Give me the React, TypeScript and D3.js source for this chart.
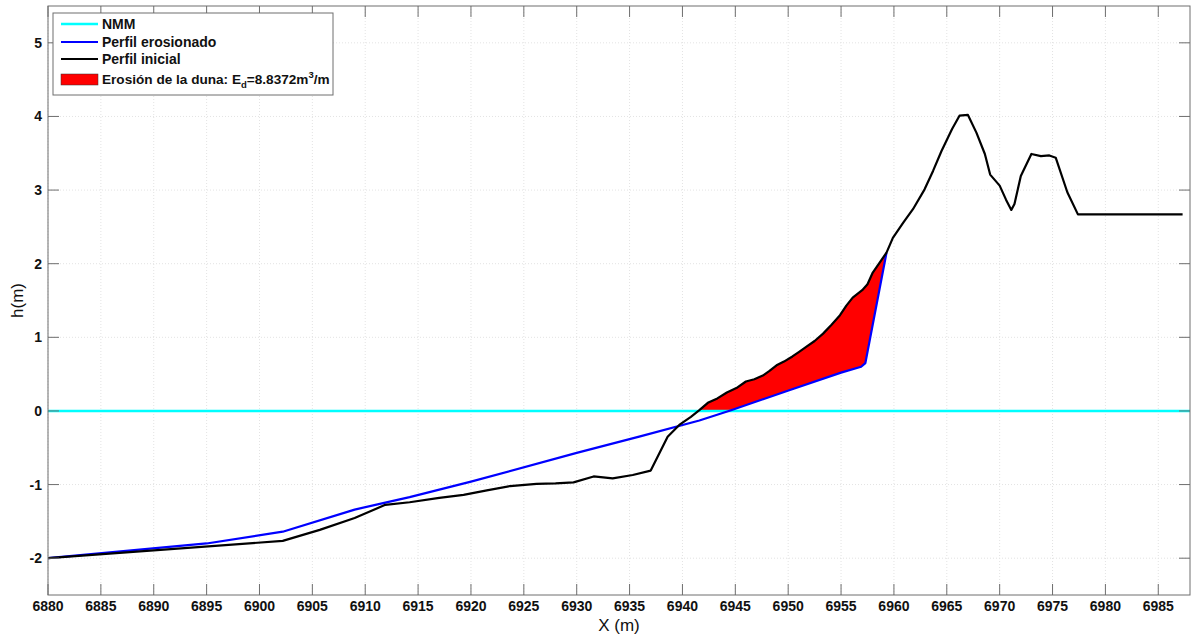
import React from "react";
import * as d3 from "d3";

const initialX = [6880, 6902.2, 6905.7, 6909.0, 6911.9, 6914.2, 6917.0, 6919.3, 6921.5, 6923.7, 6926.2, 6928.0, 6929.7, 6931.6, 6933.4, 6935.3, 6937.0, 6938.6, 6939.7, 6940.8, 6941.6, 6942.4, 6943.3, 6944.2, 6945.1, 6946.0, 6946.8, 6947.6, 6948.2, 6948.9, 6949.6, 6950.4, 6951.0, 6951.7, 6952.5, 6953.3, 6954.1, 6954.9, 6955.5, 6956.1, 6957.0, 6957.5, 6958.0, 6959.3, 6959.9, 6960.9, 6961.8, 6962.9, 6963.7, 6964.5, 6965.5, 6966.2, 6967.0, 6967.8, 6968.6, 6969.1, 6970.0, 6970.6, 6971.1, 6971.4, 6972.0, 6973.0, 6973.9, 6974.7, 6975.3, 6976.4, 6977.4, 6987.3];
const initialH = [-2.0, -1.765, -1.615, -1.455, -1.275, -1.24, -1.18, -1.14, -1.08, -1.02, -0.99, -0.985, -0.97, -0.89, -0.915, -0.87, -0.81, -0.35, -0.19, -0.08, 0.01, 0.11, 0.17, 0.25, 0.31, 0.40, 0.43, 0.48, 0.54, 0.62, 0.67, 0.74, 0.80, 0.87, 0.95, 1.05, 1.17, 1.30, 1.43, 1.54, 1.64, 1.72, 1.88, 2.15, 2.35, 2.56, 2.74, 3.01, 3.26, 3.53, 3.83, 4.01, 4.02, 3.78, 3.49, 3.21, 3.06, 2.87, 2.73, 2.81, 3.19, 3.49, 3.46, 3.47, 3.44, 2.97, 2.67, 2.67];

const erodedX = [6880, 6895, 6902.2, 6909.0, 6911.9, 6914.2, 6920, 6930, 6936, 6941.6, 6944.6, 6950.1, 6955, 6956.9, 6957.3, 6959.3];
const erodedH = [-2.0, -1.80, -1.64, -1.34, -1.245, -1.17, -0.96, -0.57, -0.345, -0.13, 0.01, 0.28, 0.52, 0.60, 0.65, 2.15];

const nmmLevel = 0;
const xTicks = d3.range(6880, 6986, 5);
const yTicks = [-2, -1, 0, 1, 2, 3, 4, 5];
const xDomain = [6880, 6988];
const yDomain = [-2.5, 5.5];
const legendLabels = ["NMM", "Perfil erosionado", "Perfil inicial"];

const W = 1194, H = 638;
const L = 48, R = 1190, T = 6, B = 595;
const FONT = "'Liberation Sans', Arial, Helvetica, sans-serif";

function interp(xs: number[], hs: number[], x: number): number {
  if (x <= xs[0]) return hs[0];
  for (let i = 1; i < xs.length; i++) {
    if (x <= xs[i]) {
      const t = (x - xs[i - 1]) / (xs[i] - xs[i - 1]);
      return hs[i - 1] + t * (hs[i] - hs[i - 1]);
    }
  }
  return hs[hs.length - 1];
}

export default function App() {
  const x = d3.scaleLinear().domain(xDomain).range([L, R]);
  const y = d3.scaleLinear().domain(yDomain).range([B, T]);

  const line = d3.line<[number, number]>().x(d => x(d[0])).y(d => y(d[1]));
  const initPts: [number, number][] = initialX.map((v, i) => [v, initialH[i]]);
  const erodPts: [number, number][] = erodedX.map((v, i) => [v, erodedH[i]]);

  const xs = Array.from(new Set([...initialX, ...erodedX, ...d3.range(6940, 6960, 0.05)])).sort((a, b) => a - b)
    .filter(v => v >= 6940 && v <= erodedX[erodedX.length - 1]);
  const fillPts = xs.map(v => {
    const top = interp(initialX, initialH, v);
    const bot = Math.max(interp(erodedX, erodedH, v), nmmLevel);
    return { v, top, bot };
  }).filter(p => p.top >= p.bot);
  const area = d3.area<{ v: number; top: number; bot: number }>()
    .x(p => x(p.v)).y0(p => y(p.bot)).y1(p => y(p.top));

  const tickLen = 11;
  const gridColor = "#e3e3e3";
  const axisColor = "#6e6e6e";

  return (
    <svg width={W} height={H} style={{ position: "absolute", left: 0, top: 0, background: "#fff" }}>
      <rect x={0} y={0} width={W} height={H} fill="#fff" />
      <defs>
        <clipPath id="plotclip"><rect x={L} y={T} width={R - L} height={B - T} /></clipPath>
      </defs>
      {xTicks.map(t => (
        <line key={"gx" + t} x1={x(t)} x2={x(t)} y1={T} y2={B} stroke={gridColor} strokeWidth={1} strokeDasharray="1,2" />
      ))}
      {yTicks.map(t => (
        <line key={"gy" + t} x1={L} x2={R} y1={y(t)} y2={y(t)} stroke={gridColor} strokeWidth={1} strokeDasharray="1,2" />
      ))}
      <g clipPath="url(#plotclip)">
        <path d={area(fillPts) || ""} fill="#ff0000" stroke="none" />
        <line x1={L} x2={R} y1={y(nmmLevel)} y2={y(nmmLevel)} stroke="#00ffff" strokeWidth={2.5} />
        <path d={line(erodPts) || ""} fill="none" stroke="#0000ff" strokeWidth={2.2} strokeLinejoin="round" />
        <path d={line(initPts) || ""} fill="none" stroke="#000" strokeWidth={2.2} strokeLinejoin="round" />
      </g>
      <rect x={L} y={T} width={R - L} height={B - T} fill="none" stroke={axisColor} strokeWidth={1} />
      {xTicks.map(t => (
        <g key={"tx" + t}>
          <line x1={x(t)} x2={x(t)} y1={B} y2={B - tickLen} stroke={axisColor} />
          <line x1={x(t)} x2={x(t)} y1={T} y2={T + tickLen} stroke={axisColor} />
          <text x={x(t)} y={B + 16} textAnchor="middle" fontFamily={FONT} fontWeight="bold" fontSize={14} fill="#111">{t}</text>
        </g>
      ))}
      {yTicks.map(t => (
        <g key={"ty" + t}>
          <line x1={L} x2={L + tickLen} y1={y(t)} y2={y(t)} stroke={axisColor} />
          <line x1={R} x2={R - tickLen} y1={y(t)} y2={y(t)} stroke={axisColor} />
          <text x={L - 6} y={y(t) + 5} textAnchor="end" fontFamily={FONT} fontWeight="bold" fontSize={14} fill="#111">{t}</text>
        </g>
      ))}
      <text x={(L + R) / 2} y={631} textAnchor="middle" fontFamily={FONT} fontSize={17} fill="#111">X (m)</text>
      <text transform={`translate(23,${(T + B) / 2}) rotate(-90)`} textAnchor="middle" fontFamily={FONT} fontSize={17} fill="#111">h(m)</text>
      <g>
        <rect x={53} y={13} width={280} height={82} fill="#fff" stroke={axisColor} strokeWidth={1} />
        <line x1={61} x2={98} y1={24} y2={24} stroke="#00ffff" strokeWidth={2.5} />
        <line x1={61} x2={98} y1={42} y2={42} stroke="#0000ff" strokeWidth={2.2} />
        <line x1={61} x2={98} y1={59} y2={59} stroke="#000" strokeWidth={2.2} />
        <rect x={61} y={74} width={37} height={11} fill="#ff0000" stroke="#333" strokeWidth={0.5} />
        {legendLabels.map((lab, i) => (
          <text key={lab} x={102} y={[24, 42, 59][i] + 5} fontFamily={FONT} fontWeight="bold" fontSize={14} fill="#111">{lab}</text>
        ))}
        <text x={102} y={84} fontFamily={FONT} fontWeight="bold" fontSize={13.6} fill="#111">
          Erosión de la duna: E<tspan fontSize={9.5} dy={4}>d</tspan><tspan dy={-4}>=8.8372m</tspan><tspan fontSize={9.5} dy={-6}>3</tspan><tspan dy={6}>/m</tspan>
        </text>
      </g>
    </svg>
  );
}
